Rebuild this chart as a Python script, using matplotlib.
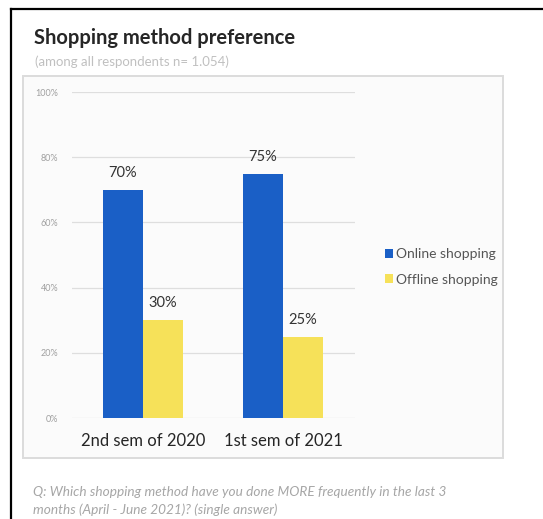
import numpy as np
import matplotlib.pyplot as plt
from matplotlib.patches import Rectangle
from matplotlib.lines import Line2D

plt.rcParams['font.family'] = ['Lato', 'DejaVu Sans']

# survey data
periods = ["2nd sem of 2020", "1st sem of 2021"]
online = [70, 75]
offline = [30, 25]
series_names = ["Online shopping", "Offline shopping"]
yticks = [0, 20, 40, 60, 80, 100]

blue = "#1a5fc6"
yellow = "#f6e159"

W, H = 543, 519
fig = plt.figure(figsize=(W / 100, H / 100), dpi=100)

def fx(px):
    return px / W

def fy(py):
    return 1 - py / H

# outer black frame (left + top)
fig.add_artist(Line2D([fx(11), fx(11)], [fy(9), 0], color="black", lw=1.6))
fig.add_artist(Line2D([fx(11), 1], [fy(9), fy(9)], color="black", lw=1.6))

# light panel around the chart
fig.add_artist(Rectangle((fx(23), fy(458)), fx(503) - fx(23), fy(76) - fy(458),
                         facecolor="#fbfbfb", edgecolor="#dcdcdc", lw=1.4, zorder=0))

fig.text(fx(34), fy(38), "Shopping method preference", fontsize=14.5,
         fontweight="bold", color="#262626", va="center")
fig.text(fx(35), fy(62), "(among all respondents n= 1.054)", fontsize=9.5,
         color="#c0c0c0", va="center")

ax = fig.add_axes([fx(72), fy(418), fx(355) - fx(72), fy(92) - fy(418)])
ax.set_facecolor("none")

x = np.arange(len(periods))
w = 0.286
b1 = ax.bar(x - w / 2, online, w, color=blue, label=series_names[0], zorder=3)
b2 = ax.bar(x + w / 2, offline, w, color=yellow, label=series_names[1], zorder=3)

for bars, vals in [(b1, online), (b2, offline)]:
    for r, v in zip(bars, vals):
        ax.text(r.get_x() + r.get_width() / 2, v + 3, f"{v}%", ha="center",
                va="bottom", fontsize=10.5, color="#333333")

ax.set_xlim(-0.507, 1.514)
ax.set_ylim(0, 100)
ax.set_yticks(yticks)
ax.set_yticklabels([f"{t}%" for t in yticks], fontsize=6.5, color="#a0a0a0")
ax.set_xticks(x)
ax.set_xticklabels(periods, fontsize=12, color="#262626")
ax.tick_params(axis="y", length=0, pad=10)
ax.tick_params(axis="x", length=0, pad=11)
ax.grid(axis="y", color="#dedede", lw=0.9, zorder=0)
for s in ax.spines.values():
    s.set_visible(False)

fig.legend(handles=[b1, b2], labels=series_names, loc="center left",
           bbox_to_anchor=(fx(372), fy(267)), frameon=False, fontsize=10,
           labelcolor="#555555", handlelength=0.6, handleheight=0.6,
           handletextpad=0.25, labelspacing=0.95)

fig.text(fx(33), fy(492), "Q: Which shopping method have you done MORE frequently in the last 3",
         fontsize=9.8, style="italic", color="#a6a6a6", va="center")
fig.text(fx(33), fy(510), "months (April - June 2021)? (single answer)",
         fontsize=9.8, style="italic", color="#a6a6a6", va="center")

fig.savefig("out.png", dpi=100)
